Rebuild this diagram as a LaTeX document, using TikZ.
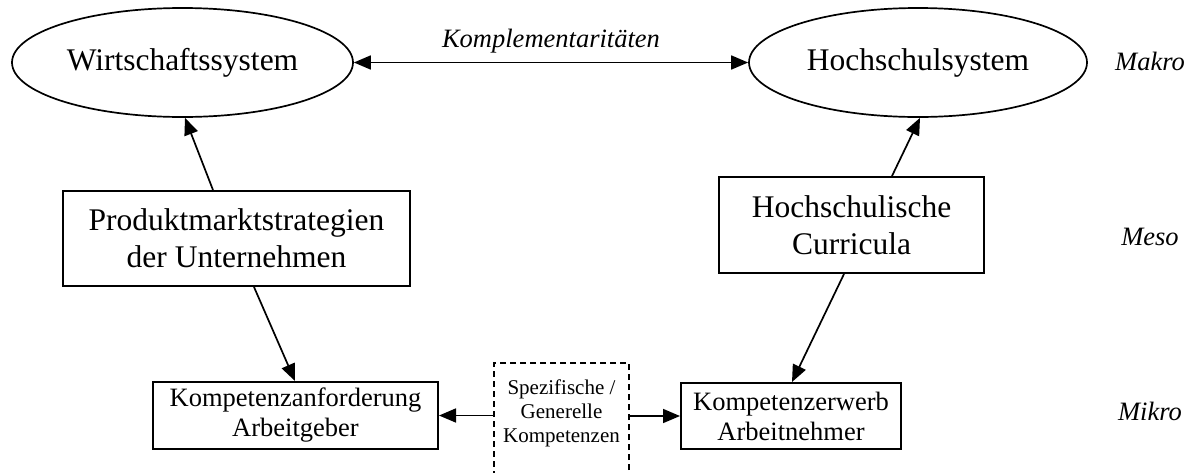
\documentclass[tikz,border=0pt]{standalone}
\usepackage{fontspec}
\setmainfont{Liberation Serif}
\usetikzlibrary{arrows.meta,fit,shapes.geometric}
\begin{document}
\begin{tikzpicture}[x=1pt,y=-1pt,
  ell/.style={ellipse, draw, line width=1.7pt, inner sep=0pt, font=\fontsize{31.5}{37}\selectfont},
  bigbox/.style={rectangle, draw, line width=2pt, inner sep=0pt, align=center, font=\fontsize{31.5}{37}\selectfont},
  smallbox/.style={rectangle, draw, line width=2pt, inner sep=0pt, align=center, font=\fontsize{26.5}{30}\selectfont},
  dashbox/.style={rectangle, draw, line width=1.8pt, dash pattern=on 6pt off 4pt, inner sep=0pt},
  dashtext/.style={align=center, inner sep=0pt, font=\fontsize{21}{24}\selectfont},
  lvl/.style={font=\fontsize{26.5}{30}\selectfont\itshape, anchor=base, inner sep=0pt},
  arr/.style={line width=1.7pt, -{Triangle[length=17pt,width=14pt]}},
  darr/.style={line width=1.7pt, {Triangle[length=17pt,width=14pt]}-{Triangle[length=17pt,width=14pt]}},
]
\useasboundingbox (0,0) rectangle (1194,472);

% macro level
\node[ell, minimum width=341pt, minimum height=109pt] (wirt) at (182.5,62.5) {Wirtschaftssystem};
\node[ell, minimum width=338pt, minimum height=109pt] (hoch) at (918,62.5) {Hochschulsystem};

% meso level
\node[bigbox, minimum width=347pt, minimum height=95pt] (prod) at (236.5,238.5) {Produktmarktstrategien\\der Unternehmen};
\node[bigbox, minimum width=265pt, minimum height=96pt] (hs) at (851.5,225) {Hochschulische\\Curricula};

% micro level
\node[smallbox, minimum width=285pt, minimum height=67pt] (kanf) at (295.5,415.5) {Kompetenzanforderung\\Arbeitgeber};
\node[smallbox, minimum width=220pt, minimum height=66pt] (kerw) at (791,416) {Kompetenzerwerb\\Arbeitnehmer};

\node[dashbox, fit={(494,363) (629,485)}] (dash) {};
\node[dashtext] (spez) at (561.5,413) {Spezifische /\\Generelle\\Kompetenzen};

% level labels
\node[lvl] (makro) at (1150,70) {Makro};
\node[lvl] (meso) at (1150,245) {Meso};
\node[lvl] (mikro) at (1150,420) {Mikro};

% connectors
\draw[darr] (wirt.east) -- node[lvl, above=15pt, anchor=base] (komp) {Komplementaritäten} (hoch.west);
\draw[arr] ([xshift=-23.5pt]prod.north) -- ([xshift=2.5pt]wirt.south);
\draw[arr] ([xshift=40.5pt]hs.north) -- ([xshift=2pt]hoch.south);
\draw[arr] ([xshift=17.5pt]prod.south) -- ([xshift=-0.5pt]kanf.north);
\draw[arr] ([xshift=-7.5pt]hs.south) -- ([xshift=1pt]kerw.north);
\draw[arr] (dash.west |- kanf.east) -- (kanf.east);
\draw[arr] (dash.east |- kerw.west) -- (kerw.west);
\end{tikzpicture}
\end{document}
